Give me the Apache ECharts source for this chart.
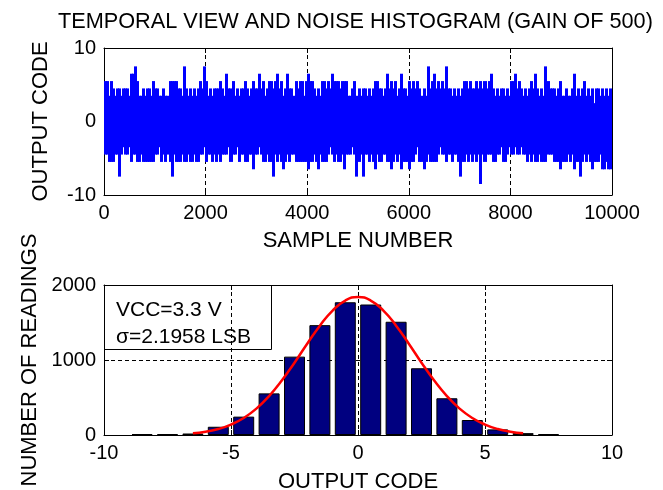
<!DOCTYPE html>
<html>
<head>
<meta charset="utf-8">
<script src="https://cdn.jsdelivr.net/npm/echarts@6/dist/echarts.min.js"></script>
<style>
  html, body { margin: 0; padding: 0; background: #fff; }
  #chart { width: 663px; height: 490px; }
</style>
</head>
<body>
<div id="chart"></div>
<script>
// temporal view: 10000 samples, shown as max / min output code of every 40-sample column
var samplesPerColumn = 40;
var columnMax = [
  5.5,5.5,3.5,5.5,4.5,3.5,4.5,4.5,3.5,4.5, 4.5,4.5,3.5,6.5,6.5,7.5,5.5,3.5,3.5,4.5,
  3.5,4.5,4.5,3.5,5.5,4.5,4.5,3.5,3.5,4.5, 3.5,3.5,5.5,5.5,5.5,5.5,4.5,4.5,3.5,7.5,
  4.5,3.5,4.5,3.5,4.5,3.5,4.5,5.5,4.5,7.5, 5.5,3.5,4.5,3.5,4.5,4.5,4.5,5.5,4.5,3.5,
  6.5,4.5,4.5,5.5,3.5,4.5,3.5,4.5,4.5,5.5, 4.5,3.5,4.5,5.5,4.5,4.5,6.5,4.5,5.5,3.5,
  4.5,5.5,5.5,4.5,5.5,6.5,4.5,5.5,3.5,4.5, 6.5,4.5,4.5,3.5,5.5,4.5,5.5,5.5,3.5,5.5,
  6.5,5.5,5.5,4.5,3.5,4.5,3.5,5.5,5.5,4.5, 5.5,4.5,6.5,5.5,5.5,5.5,4.5,5.5,5.5,5.5,
  3.5,3.5,4.5,5.5,3.5,4.5,3.5,4.5,4.5,3.5, 4.5,3.5,4.5,5.5,5.5,4.5,4.5,3.5,4.5,6.5,
  4.5,5.5,4.5,5.5,3.5,4.5,6.5,4.5,4.5,3.5, 5.5,4.5,5.5,4.5,5.5,4.5,3.5,4.5,3.5,7.5,
  4.5,5.5,6.5,4.5,5.5,4.5,5.5,4.5,7.5,4.5, 4.5,3.5,4.5,3.5,4.5,3.5,4.5,5.5,5.5,4.5,
  5.5,4.5,4.5,5.5,4.5,5.5,4.5,5.5,4.5,5.5, 6.5,4.5,3.5,4.5,3.5,4.5,4.5,3.5,4.5,3.5,
  5.5,5.5,6.5,4.5,5.5,4.5,3.5,4.5,3.5,4.5, 5.5,4.5,6.5,4.5,3.5,4.5,3.5,7.5,5.5,4.5,
  4.5,4.5,3.5,4.5,5.5,3.5,3.5,4.5,3.5,3.5, 4.5,6.5,3.5,4.5,3.5,4.5,5.5,3.5,4.5,3.5,
  4.5,2.5,4.5,4.5,3.5,4.5,3.5,4.5,3.5,4.5
];
var columnMin = [
  -4.5,-4.5,-5.5,-5.5,-5.5,-4.5,-4.5,-7.5,-4.5,-3.5, -4.5,-4.5,-3.5,-5.5,-4.5,-4.5,-5.5,-5.5,-4.5,-5.5,
  -5.5,-5.5,-5.5,-5.5,-5.5,-4.5,-4.5,-3.5,-5.5,-4.5, -5.5,-4.5,-5.5,-7.5,-4.5,-5.5,-5.5,-5.5,-4.5,-5.5,
  -5.5,-4.5,-5.5,-5.5,-4.5,-5.5,-5.5,-4.5,-4.5,-3.5, -5.5,-4.5,-4.5,-5.5,-4.5,-5.5,-4.5,-5.5,-4.5,-4.5,
  -4.5,-3.5,-5.5,-4.5,-4.5,-3.5,-5.5,-4.5,-4.5,-5.5, -5.5,-4.5,-4.5,-6.5,-4.5,-4.5,-3.5,-4.5,-5.5,-5.5,
  -4.5,-5.5,-5.5,-7.5,-4.5,-5.5,-4.5,-5.5,-6.5,-5.5, -4.5,-5.5,-4.5,-4.5,-5.5,-5.5,-5.5,-5.5,-5.5,-5.5,
  -6.5,-5.5,-5.5,-4.5,-5.5,-6.5,-4.5,-5.5,-5.5,-5.5, -4.5,-3.5,-4.5,-5.5,-4.5,-5.5,-5.5,-4.5,-6.5,-4.5,
  -4.5,-4.5,-3.5,-4.5,-7.5,-5.5,-4.5,-7.5,-4.5,-4.5, -5.5,-4.5,-5.5,-6.5,-4.5,-5.5,-5.5,-4.5,-4.5,-5.5,
  -5.5,-6.5,-5.5,-4.5,-5.5,-4.5,-6.5,-5.5,-5.5,-5.5, -6.5,-5.5,-5.5,-4.5,-3.5,-5.5,-5.5,-6.5,-5.5,-4.5,
  -5.5,-5.5,-5.5,-5.5,-4.5,-3.5,-4.5,-4.5,-5.5,-4.5, -4.5,-5.5,-4.5,-4.5,-5.5,-7.5,-5.5,-5.5,-4.5,-5.5,
  -4.5,-5.5,-4.5,-5.5,-4.5,-8.5,-4.5,-5.5,-4.5,-4.5, -4.5,-5.5,-5.5,-4.5,-4.5,-3.5,-5.5,-5.5,-4.5,-3.5,
  -4.5,-4.5,-3.5,-4.5,-4.5,-3.5,-4.5,-4.5,-5.5,-4.5, -5.5,-4.5,-5.5,-5.5,-4.5,-5.5,-5.5,-5.5,-4.5,-4.5,
  -4.5,-5.5,-5.5,-5.5,-6.5,-5.5,-5.5,-5.5,-4.5,-5.5, -4.5,-6.5,-5.5,-5.5,-7.5,-5.5,-4.5,-5.5,-4.5,-5.5,
  -6.5,-5.5,-5.5,-5.5,-4.5,-6.5,-6.5,-5.5,-6.5,-6.5
];

// noise histogram
var binCenters = [-8.5,-7.5,-6.5,-5.5,-4.5,-3.5,-2.5,-1.5,-0.5,0.5,1.5,2.5,3.5,4.5,5.5,6.5,7.5];
var binCounts = [12, 12, 20, 110, 245, 555, 1045, 1465, 1770, 1740, 1510, 890, 490, 200, 75, 25, 12];

// gaussian fit (red line)
var fitCodes = [-6.5,-6,-5.5,-5,-4.5,-4,-3.5,-3,-2.5,-2,-1.5,-1,-0.5,0,0.5,1,1.5,2,2.5,3,3.5,4,4.5,5,5.5,6,6.5];
var fitCounts = [23,44,80,139,227,352,519,726,964,1217,1458,1659,1793,1840,1793,1659,1458,1217,964,726,519,352,227,139,80,44,23];

var boxLines = ['VCC=3.3 V', '\u03c3=2.1958 LSB'];

var font = '"Liberation Sans", Arial, sans-serif';

// one row per column: first sample, last sample, max, min
var noiseData = columnMax.map(function (v, i) {
  return [i * samplesPerColumn, (i + 1) * samplesPerColumn, v, columnMin[i]];
});

function renderColumn(params, api) {
  var p0 = api.coord([api.value(0), api.value(2)]);
  var p1 = api.coord([api.value(1), api.value(3)]);
  var x0 = Math.floor(p0[0]);
  var x1 = Math.ceil(p1[0]);
  return {
    type: 'rect',
    shape: { x: x0, y: p0[1], width: Math.max(1, x1 - x0), height: p1[1] - p0[1] },
    style: { fill: '#0000ff' }
  };
}

function plainNumber(v) { return String(v); }

function mainAxis(gridIndex, pos, min, max, interval, name, nameGap) {
  return {
    type: 'value', gridIndex: gridIndex, position: pos,
    min: min, max: max, interval: interval,
    name: name, nameLocation: 'middle', nameGap: nameGap,
    nameRotate: (pos === 'left') ? 90 : 0,
    nameTextStyle: { fontFamily: font, fontSize: 22, color: '#000' },
    axisLine: { show: true, onZero: false, lineStyle: { color: '#000', width: 1 } },
    axisTick: { show: true, inside: true, length: 5, lineStyle: { color: '#000' } },
    axisLabel: { fontFamily: font, fontSize: 20, color: '#000', margin: 8, formatter: plainNumber,
      showMinLabel: true, showMaxLabel: true },
    splitLine: { show: true, lineStyle: { color: '#000', type: [4, 3], width: 1 } }
  };
}

function mirrorAxis(gridIndex, pos, min, max, interval) {
  return {
    type: 'value', gridIndex: gridIndex, position: pos,
    min: min, max: max, interval: interval,
    axisLine: { show: true, onZero: false, lineStyle: { color: '#000', width: 1 } },
    axisTick: { show: true, inside: true, length: 5, lineStyle: { color: '#000' } },
    axisLabel: { show: false },
    splitLine: { show: false }
  };
}

var option = {
  animation: false,
  backgroundColor: '#fff',
  title: {
    text: 'TEMPORAL VIEW AND NOISE HISTOGRAM (GAIN OF 500)',
    left: 53, top: 6,
    textStyle: { fontFamily: font, fontSize: 21.7, fontWeight: 'normal', color: '#000' }
  },
  grid: [
    { left: 104, right: 51, top: 48, height: 147, containLabel: false, outerBoundsMode: 'none' },
    { left: 104, right: 51, top: 285, height: 150, containLabel: false, outerBoundsMode: 'none' }
  ],
  xAxis: [
    mainAxis(0, 'bottom', 0, 10000, 2000, 'SAMPLE NUMBER', 35),
    mirrorAxis(0, 'top', 0, 10000, 2000),
    mainAxis(1, 'bottom', -10, 10, 5, 'OUTPUT CODE', 36),
    mirrorAxis(1, 'top', -10, 10, 5)
  ],
  yAxis: [
    mainAxis(0, 'left', -10, 10, 10, 'OUTPUT CODE', 52),
    mirrorAxis(0, 'right', -10, 10, 10),
    mainAxis(1, 'left', 0, 2000, 1000, 'NUMBER OF READINGS', 62),
    mirrorAxis(1, 'right', 0, 2000, 1000)
  ],
  series: [
    {
      type: 'custom', xAxisIndex: 0, yAxisIndex: 0,
      data: noiseData,
      encode: { x: [0, 1], y: [2, 3] },
      renderItem: renderColumn
    },
    {
      type: 'bar', xAxisIndex: 2, yAxisIndex: 2,
      data: binCenters.map(function (c, i) { return [c, binCounts[i]]; }),
      barWidth: 21,
      itemStyle: { color: '#000080', borderColor: '#000', borderWidth: 1 }
    },
    {
      type: 'line', xAxisIndex: 2, yAxisIndex: 2,
      data: fitCodes.map(function (c, i) { return [c, fitCounts[i]]; }),
      symbol: 'none', smooth: true, z: 5,
      lineStyle: { color: '#ff0000', width: 2.5 }
    }
  ],
  graphic: [{
    type: 'group', left: 104, top: 285, z: 10,
    children: [
      { type: 'rect', shape: { x: 0.5, y: 0.5, width: 167, height: 64 },
        style: { fill: '#fff', stroke: '#000', lineWidth: 1 } },
      { type: 'text', x: 12, y: 12,
        style: { text: boxLines.join('\n'), font: '21px ' + font, lineHeight: 27, fill: '#000' } }
    ]
  }]
};

var chart = echarts.init(document.getElementById('chart'), null, { renderer: 'canvas' });
chart.setOption(option);
</script>
</body>
</html>
